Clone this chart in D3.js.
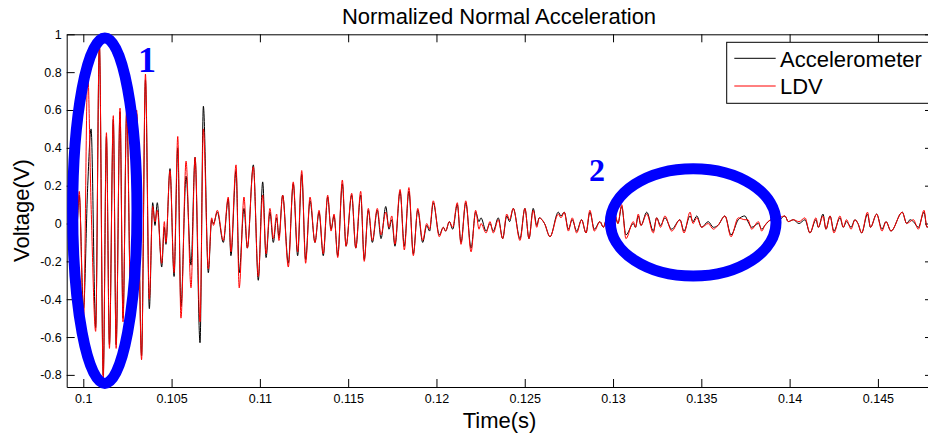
<!DOCTYPE html>
<html>
<head>
<meta charset="utf-8">
<script src="https://cdn.jsdelivr.net/npm/d3@7"></script>
<style>
body { margin: 0; background: #fff; }
text { font-family: "Liberation Sans", Arial, sans-serif; }
</style>
</head>
<body>
<div id="chart"></div>
<script>
const width = 928
const height = 436
const margin = {top: 34.3, right: -5, bottom: 49, left: 66.7}
const innerW = width - margin.left - margin.right
const innerH = height - margin.top - margin.bottom

// time (s) of each read-off turning point
const time = [0.09925,0.09961,0.09977,0.10001,0.10025,0.10044,0.10070,0.10091,0.10113,0.10131,
  0.10148,0.10170,0.10186,0.10208,0.10225,0.10246,0.10270,0.10302,0.10330,0.10352,
  0.10374,0.10393,0.10406,0.10419,0.10444,0.10459,0.10468,0.10491,0.10514,0.10535,
  0.10553,0.10582,0.10610,0.10633,0.10661,0.10680,0.10708,0.10727,0.10737,0.10759,
  0.10793,0.10821,0.10836,0.10865,0.10883,0.10910,0.10929,0.10963,0.10991,0.11016,
  0.11035,0.11057,0.11076,0.11095,0.11108,0.11129,0.11161,0.11189,0.11214,0.11237,
  0.11259,0.11284,0.11312,0.11335,0.11359,0.11384,0.11403,0.11420,0.11441,0.11467,
  0.11488,0.11520,0.11543,0.11571,0.11591,0.11614,0.11637,0.11665,0.11686,0.11713,
  0.11731,0.11747,0.11765,0.11794,0.11818,0.11844,0.11869,0.11894,0.11922,0.11945,
  0.11961,0.11982,0.12016,0.12039,0.12052,0.12073,0.12092,0.12118,0.12139,0.12166,
  0.12196,0.12222,0.12241,0.12252,0.12281,0.12303,0.12322,0.12350,0.12375,0.12398,
  0.12414,0.12435,0.12473,0.12501,0.12524,0.12548,0.12568,0.12582,0.12612,0.12643,
  0.12690,0.12705,0.12724,0.12747,0.12769,0.12794,0.12822,0.12847,0.12869,0.12894,
  0.12926,0.12945,0.12966,0.12988,0.13011,0.13028,0.13049,0.13073,0.13115,0.13127,
  0.13143,0.13158,0.13191,0.13228,0.13247,0.13269,0.13294,0.13332,0.13379,0.13402,
  0.13436,0.13453,0.13474,0.13502,0.13539,0.13568,0.13594,0.13634,0.13668,0.13709,
  0.13747,0.13764,0.13785,0.13823,0.13842,0.13860,0.13898,0.13917,0.13945,0.13974,
  0.13992,0.14021,0.14053,0.14087,0.14115,0.14149,0.14163,0.14189,0.14206,0.14229,
  0.14251,0.14285,0.14304,0.14322,0.14348,0.14370,0.14387,0.14408,0.14441,0.14458,
  0.14493,0.14523,0.14546,0.14574,0.14638,0.14663,0.14682,0.14701,0.14729,0.14761,
  0.14778,0.14800]

const accel = [0.00,-0.05,0.15,-0.45,0.20,0.50,-0.55,0.95,-0.80,0.46,
  -0.64,0.55,-0.64,0.59,-0.50,0.60,-0.48,0.58,-0.70,0.76,
  -0.45,0.11,-0.01,0.11,-0.23,-0.02,-0.11,0.29,-0.28,0.40,
  -0.44,0.25,-0.22,0.35,-0.63,0.62,-0.26,0.02,0.00,0.06,
  -0.10,0.13,-0.17,0.28,-0.26,0.08,-0.13,0.31,-0.30,0.22,
  -0.18,0.06,-0.10,0.03,-0.07,0.15,-0.21,0.21,-0.17,0.26,
  -0.19,0.12,-0.10,0.06,-0.17,0.14,-0.03,0.04,-0.17,0.21,
  -0.12,0.15,-0.13,0.15,-0.19,0.07,-0.10,0.07,-0.08,0.09,
  -0.03,0.02,-0.12,0.17,-0.12,0.17,-0.16,0.07,-0.10,-0.01,
  -0.04,0.11,-0.06,-0.02,-0.04,0.01,-0.03,0.10,-0.10,0.11,
  -0.13,0.06,0.01,0.03,-0.04,0.00,-0.04,0.03,-0.08,0.04,
  0.01,0.08,-0.08,0.08,-0.08,0.08,-0.01,0.03,0.00,-0.07,
  0.06,0.04,0.06,-0.03,0.02,-0.04,0.02,-0.05,0.06,-0.03,
  0.01,-0.02,0.03,-0.03,0.04,0.00,0.09,-0.06,0.00,-0.02,
  0.04,-0.01,0.06,-0.04,0.03,-0.01,0.03,-0.03,0.02,-0.04,
  0.04,0.01,0.04,-0.02,0.01,-0.02,-0.01,0.04,-0.06,0.02,
  0.04,0.01,-0.02,0.00,-0.03,-0.01,0.02,0.00,0.02,0.04,
  0.01,0.02,0.00,0.02,-0.05,0.02,-0.02,0.05,-0.03,0.04,
  -0.04,0.03,-0.02,0.01,-0.02,0.02,0.00,-0.05,0.05,-0.02,
  0.05,-0.03,0.01,-0.04,0.06,0.00,0.02,0.01,-0.02,0.06,
  -0.02,0.02]

const ldv = [0.00,-0.05,0.17,-0.52,0.80,0.10,-0.57,0.97,-0.83,0.48,
  -0.66,0.57,-0.66,0.61,-0.52,0.62,-0.50,0.60,-0.72,0.79,
  -0.40,0.09,0.01,0.07,-0.21,0.01,-0.10,0.28,-0.26,0.46,
  -0.50,0.33,-0.34,0.35,-0.52,0.50,-0.24,0.03,-0.01,0.07,
  -0.09,0.14,-0.15,0.31,-0.34,0.14,-0.13,0.30,-0.28,0.15,
  -0.16,0.08,-0.08,0.05,-0.09,0.15,-0.23,0.22,-0.15,0.28,
  -0.21,0.14,-0.10,0.07,-0.16,0.15,-0.04,0.05,-0.18,0.23,
  -0.12,0.16,-0.13,0.17,-0.20,0.08,-0.09,0.08,-0.06,0.06,
  -0.02,0.04,-0.11,0.18,-0.14,0.19,-0.17,0.08,-0.09,0.00,
  -0.03,0.12,-0.07,-0.02,-0.04,0.01,-0.02,0.11,-0.11,0.12,
  -0.15,0.07,-0.03,0.00,-0.05,0.01,-0.05,0.02,-0.08,0.05,
  0.02,0.08,-0.09,0.08,-0.08,0.07,-0.02,0.03,0.00,-0.07,
  0.05,0.03,0.06,-0.04,0.03,-0.05,0.02,-0.05,0.07,-0.04,
  0.01,-0.02,0.03,-0.02,0.05,0.00,0.10,-0.08,0.01,-0.02,
  0.05,-0.01,0.05,-0.05,0.03,-0.02,0.04,-0.04,0.02,-0.05,
  0.06,0.00,0.03,-0.02,0.00,-0.03,-0.01,0.04,-0.07,0.03,
  0.02,0.02,-0.03,0.01,-0.04,-0.01,0.02,0.00,0.03,0.04,
  0.01,0.02,0.01,0.03,-0.05,0.03,-0.02,0.04,-0.03,0.04,
  -0.05,0.04,-0.02,0.02,-0.03,0.02,0.00,-0.05,0.06,-0.02,
  0.05,-0.04,0.01,-0.04,0.06,0.00,0.01,0.02,-0.03,0.07,
  -0.02,0.03]

const xTicks = [0.1,0.105,0.11,0.115,0.12,0.125,0.13,0.135,0.14,0.145]
const yTicks = [-0.8,-0.6,-0.4,-0.2,0,0.2,0.4,0.6,0.8,1]
const seriesNames = ["Accelerometer", "LDV"]
const seriesColors = ["#000000", "#ff0000"]

// hand-drawn highlight rings: centre, half-width (s), half-height (V), label spot
const rings = [
  {label: "1", t: 0.10122, v: 0.068, dt: 0.00182, dv: 0.913, lt: 0.10361, lv: 0.80, fs: 36},
  {label: "2", t: 0.13454, v: 0.006, dt: 0.00469, dv: 0.284, lt: 0.12909, lv: 0.226, fs: 32},
]

const svg = d3.select("div#chart").append("svg").attr("width", width).attr("height", height)

svg.append("defs").append("clipPath").attr("id", "plotClip")
  .append("rect").attr("width", innerW).attr("height", innerH)

const g = svg.append("g").attr("transform", `translate(${margin.left}, ${margin.top})`)

const x = d3.scaleLinear().domain([0.09906, 0.14812]).range([0, innerW])
const y = d3.scaleLinear().domain([-0.864, 1]).range([innerH, 0])

const fmt = d => String(+d.toFixed(3))

const xAxis = g.append("g").attr("transform", `translate(0, ${innerH})`)
  .call(d3.axisBottom(x).tickValues(xTicks).tickFormat(fmt).tickSize(-8).tickSizeOuter(0).tickPadding(7.5))
const yAxis = g.append("g")
  .call(d3.axisLeft(y).tickValues(yTicks).tickFormat(fmt).tickSize(-8).tickSizeOuter(0).tickPadding(5))
g.append("g")
  .call(d3.axisTop(x).tickValues(xTicks).tickFormat("").tickSize(-8).tickSizeOuter(0))
g.append("g").attr("transform", `translate(${innerW}, 0)`)
  .call(d3.axisRight(y).tickValues(yTicks).tickFormat("").tickSize(-8).tickSizeOuter(0))

g.selectAll(".tick text").attr("font-size", 12.5).attr("font-family", "Liberation Sans, Arial, sans-serif")
g.selectAll(".domain, .tick line").attr("stroke", "#000").attr("stroke-width", 1)

const line = d3.line().curve(d3.curveMonotoneX)
const plot = g.append("g").attr("clip-path", "url(#plotClip)")
;[accel, ldv].forEach((vals, i) => {
  plot.append("path")
    .datum(time.map((t, k) => [x(t), y(vals[k])]))
    .attr("fill", "none")
    .attr("stroke", seriesColors[i])
    .attr("stroke-width", 1)
    .attr("stroke-linejoin", "round")
    .attr("d", line)
})

// legend
const lg = g.append("g").attr("transform", `translate(${726.7 - margin.left}, ${42.3 - margin.top})`)
lg.append("rect").attr("width", 215).attr("height", 61)
  .attr("fill", "#fff").attr("stroke", "#000").attr("stroke-width", 1)
seriesNames.forEach((name, i) => {
  const yy = 16 + i * 27.7
  lg.append("line").attr("x1", 7.6).attr("x2", 49).attr("y1", yy).attr("y2", yy)
    .attr("stroke", seriesColors[i]).attr("stroke-width", 1)
  lg.append("text").attr("x", 53.3).attr("y", yy + 8.4).attr("font-size", 22).text(name)
})

// rings and their numbers
rings.forEach(r => {
  g.append("ellipse")
    .attr("cx", x(r.t)).attr("cy", y(r.v))
    .attr("rx", x(r.t + r.dt) - x(r.t)).attr("ry", y(r.v) - y(r.v + r.dv))
    .attr("fill", "none").attr("stroke", "#0000ff").attr("stroke-width", 11)
  g.append("text").attr("x", x(r.lt)).attr("y", y(r.lv))
    .attr("text-anchor", "middle").attr("font-size", r.fs).attr("font-weight", "bold")
    .style("font-family", "'Liberation Serif', 'Times New Roman', serif")
    .attr("fill", "#0000ff").text(r.label)
})

svg.append("text").attr("x", 499).attr("y", 24).attr("text-anchor", "middle")
  .attr("font-size", 22).text("Normalized Normal Acceleration")
svg.append("text").attr("x", 499.5).attr("y", 428.3).attr("text-anchor", "middle")
  .attr("font-size", 22).text("Time(s)")
svg.append("text").attr("transform", "translate(29, 210.6) rotate(-90)").attr("text-anchor", "middle")
  .attr("font-size", 22).text("Voltage(V)")
</script>
</body>
</html>
